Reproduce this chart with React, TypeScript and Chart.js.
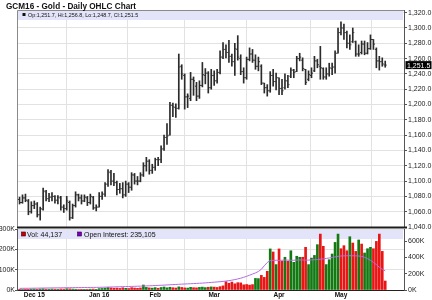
import { useEffect, useRef } from 'react';
import { Chart, registerables } from 'chart.js';

Chart.register(...registerables);

const FONT = '"Liberation Sans", Arial, Helvetica, sans-serif';
Chart.defaults.font.family = FONT;
Chart.defaults.font.size = 7;
Chart.defaults.color = '#222';

// ---- data ----
const opens = [
  1076, 1072, 1078, 1074, 1060, 1068, 1070, 1056, 1063, 1086,
  1077, 1079, 1080, 1075, 1078, 1066, 1064, 1072, 1052, 1068,
  1082, 1078, 1074, 1078, 1072, 1079, 1065, 1066, 1080, 1083,
  1096, 1111, 1100, 1098, 1089, 1090, 1082, 1096, 1092, 1108,
  1100, 1100, 1108, 1120, 1126, 1114, 1118, 1128, 1128, 1142,
  1157, 1160, 1199, 1196, 1195, 1250, 1238, 1210, 1208, 1233,
  1224, 1211, 1225, 1238, 1241, 1222, 1238, 1231, 1242, 1262,
  1272, 1268, 1263, 1256, 1272, 1260, 1243, 1235, 1259, 1266,
  1258, 1250, 1250, 1228, 1222, 1218, 1238, 1230, 1235, 1221,
  1222, 1231, 1237, 1245, 1243, 1260, 1258, 1246, 1233, 1238,
  1244, 1257, 1250, 1247, 1236, 1240, 1247, 1249, 1267, 1294,
  1300, 1294, 1280, 1282, 1282, 1266, 1268, 1279, 1267, 1273,
  1285, 1272, 1257, 1256, 1251.7,
];
const highs = [
  1079, 1082, 1083, 1076, 1073, 1074, 1072, 1066, 1091, 1088,
  1084, 1085, 1081, 1081, 1080, 1069, 1080, 1074, 1070, 1086,
  1083, 1082, 1082, 1080, 1083, 1080, 1069, 1085, 1086, 1098,
  1115, 1114, 1110, 1100, 1097, 1098, 1100, 1098, 1111, 1110,
  1106, 1111, 1124, 1131, 1128, 1122, 1130, 1131, 1146, 1160,
  1175, 1203, 1202, 1201, 1266, 1252, 1240, 1214, 1242, 1236,
  1229, 1231, 1255, 1247, 1243, 1246, 1244, 1246, 1270, 1281,
  1278, 1284, 1266, 1280, 1290, 1265, 1248, 1262, 1274, 1272,
  1265, 1262, 1252, 1228, 1226, 1243, 1246, 1241, 1235, 1233,
  1240, 1238, 1248, 1246, 1263, 1267, 1261, 1246, 1244, 1248,
  1263, 1259, 1276, 1248, 1248, 1254, 1254, 1270, 1300, 1308,
  1305, 1296, 1291, 1300, 1283, 1278, 1283, 1283, 1281, 1291,
  1285, 1274, 1263, 1261, 1256.8,
];
const lows = [
  1070, 1071, 1073, 1056, 1058, 1064, 1053, 1049, 1062, 1074,
  1073, 1074, 1071, 1070, 1062, 1059, 1062, 1049, 1051, 1066,
  1074, 1070, 1073, 1068, 1070, 1063, 1061, 1066, 1076, 1080,
  1093, 1095, 1094, 1082, 1084, 1078, 1080, 1085, 1088, 1096,
  1095, 1099, 1106, 1113, 1109, 1110, 1114, 1120, 1124, 1140,
  1148, 1160, 1184, 1183, 1194, 1233, 1194, 1196, 1205, 1212,
  1205, 1208, 1223, 1227, 1215, 1220, 1225, 1228, 1240, 1260,
  1261, 1255, 1250, 1238, 1258, 1239, 1228, 1233, 1257, 1255,
  1246, 1244, 1226, 1215, 1211, 1216, 1224, 1219, 1213, 1213,
  1220, 1222, 1235, 1235, 1243, 1257, 1244, 1226, 1231, 1235,
  1243, 1248, 1233, 1233, 1233, 1237, 1239, 1241, 1267, 1291,
  1285, 1274, 1272, 1281, 1263, 1263, 1266, 1265, 1266, 1272,
  1272, 1248, 1245, 1250, 1248.7,
];
const closes = [
  1072, 1078, 1075, 1060, 1068, 1070, 1056, 1064, 1087, 1077,
  1079, 1080, 1075, 1079, 1066, 1064, 1074, 1052, 1068, 1082,
  1078, 1074, 1079, 1072, 1080, 1065, 1066, 1080, 1083, 1096,
  1112, 1100, 1098, 1089, 1090, 1082, 1096, 1092, 1108, 1100,
  1100, 1108, 1120, 1126, 1114, 1118, 1128, 1128, 1142, 1157,
  1159, 1199, 1197, 1195, 1249, 1240, 1210, 1211, 1233, 1231,
  1211, 1225, 1239, 1241, 1222, 1238, 1231, 1242, 1262, 1272,
  1268, 1263, 1256, 1273, 1262, 1243, 1235, 1259, 1266, 1258,
  1250, 1256, 1228, 1222, 1218, 1238, 1230, 1235, 1221, 1218,
  1231, 1226, 1245, 1242, 1260, 1262, 1247, 1229, 1239, 1241,
  1257, 1252, 1248, 1236, 1240, 1248, 1249, 1267, 1294, 1300,
  1294, 1280, 1278, 1294, 1266, 1266, 1279, 1267, 1273, 1285,
  1279, 1257, 1256, 1253, 1251.5,
];
const volumes = [
  3200, 2100, 3800, 1500, 4200, 4800, 3600, 5200, 6100, 4400,
  3900, 4700, 4100, 3500, 5000, 4300, 6200, 5600, 4500, 3700,
  2900, 3300, 1800, 3100, 4000, 4600, 3400,
  6800, 7500, 9200, 12400, 10300, 8600, 9400, 7800, 10900, 8200,
  7300, 11500, 9600, 8400, 10100,
  24500,
  12800, 10400, 9300, 11700, 8600, 12300, 14600, 10800, 13500, 11200,
  9800, 15400, 12600, 10300, 9500, 13200, 11400, 10600, 12900, 14300,
  11800, 13600, 15200,
  14200, 12500, 16400, 20300, 41000, 33000, 39000, 30500, 36000, 35000,
  25500, 27000, 24000, 26500, 57000, 56000,
  72000, 62000, 92000, 202000, 187000, 125000, 202000, 141000, 161000, 141000,
  193000, 136000, 166000, 161000, 161000, 210000, 125000, 157000, 170000, 223000,
  275000, 215000, 125000, 149000, 177000, 234000, 275000, 203000, 218000, 193000,
  262000, 231000, 190000, 246000, 226000, 182000, 203000, 210000, 203000, 239000,
  275000, 190000, 44137,
];
// 1 = up (green) volume bar, 0 = down (red)
const volumeUp = [
  0, 1, 0, 0, 1, 1, 0, 1, 1, 0, 1, 1, 0, 1, 0, 0, 1, 0, 1, 1, 0, 0, 1, 0, 1, 0, 1,
  1, 1, 1, 1, 0, 0, 0, 0, 0, 1, 0, 0, 0, 0, 0,
  1,
  1, 0, 1, 1, 0, 1, 1, 1, 1, 0, 0, 1, 0, 0, 1, 1, 0, 0, 1, 1, 1, 0, 1,
  0, 0, 0, 0, 0, 0, 0, 0, 0, 0, 0, 0, 0, 0, 1, 1,
  0, 0, 0, 1, 0, 1, 0, 0, 1, 0, 1, 1, 1, 1, 0, 0, 1, 1, 1, 1, 0, 0, 1, 1, 1,
  1, 1, 0, 0, 0, 1, 0, 0, 1, 0, 1, 1, 1, 0, 0, 0, 0, 0,
];
const openInterest = [
  20000, 20400, 21000, 21300, 21900, 22400, 22800, 23500, 24100, 24600,
  25000, 25500, 26100, 26400, 27000, 27500, 28200, 28600, 29000, 29500,
  29900, 30300, 30500, 31000, 31400, 31900, 32300,
  33000, 34000, 35100, 36300, 37200, 38000, 39100, 40000, 41200, 42000,
  43100, 44300, 45200, 46400, 47800, 49000, 50400, 51800, 53100,
  55000, 56800, 58300, 60000, 62100, 64000, 66200, 68000, 70300, 72000,
  73800, 75500, 77400, 79200, 81000, 83100, 85000, 87600, 90200, 93000,
  96000, 99000, 102000, 106000, 110000, 115000, 121000, 128000, 136000, 145000,
  156000, 168000, 182000, 196000, 210000, 228000,
  255000, 298000, 338000,
  362000, 365000, 366000, 364000, 366000, 368000, 367000, 365000, 366000, 368000,
  370000, 369000, 367000, 368000, 370000,
  372000, 374000, 378000, 383000, 388000, 394000, 400000, 407000, 414000, 418000,
  420000, 421000, 422000, 421000, 420000, 418000, 413000, 402000, 385000, 365000,
  340000, 312000, 280000, 255000, 235105,
];
const monthTickIndex = [5, 27, 46, 66, 88, 109];
const monthTickLabels = ['Dec 15', 'Jan 16', 'Feb', 'Mar', 'Apr', 'May'];
const priceTickValues = [
  1040, 1060, 1080, 1100, 1120, 1140, 1160, 1180, 1200, 1220, 1240, 1260, 1280, 1300, 1320,
];
const volumeTickValues = [0, 100000, 200000, 300000];
const openInterestTickValues = [0, 200000, 400000, 600000];

// ---- styling ----
const X_MIN = -0.865;
const X_MAX = 130.37;
const GRID = '#e2e2e2';
const BAR = '#2b2b2b';
const BAND = '#e3e3f9';
const UP = '#137a13';
const DOWN = '#ea1616';
const OI_COLOR = '#b46ae4';

const fmt1 = (v: number) =>
  v.toLocaleString('en-US', { minimumFractionDigits: 1, maximumFractionDigits: 1 });
const fmtInt = (v: number) => Math.round(v).toLocaleString('en-US');
const fmtK = (v: number) => `${Math.round(v / 1000)}K`;

const setTicks = (values: number[]) => (scale: any) => {
  scale.ticks = values.map((v) => ({ value: v }));
};

const ohlcTicksPlugin = {
  id: 'ohlcTicks',
  afterDatasetsDraw(chart: any) {
    const { ctx, scales } = chart;
    const xs = scales.x;
    const ys = scales.y;
    ctx.save();
    ctx.fillStyle = BAR;
    for (let i = 0; i < opens.length; i++) {
      const px = xs.getPixelForValue(i);
      const yo = ys.getPixelForValue(opens[i]);
      const yc = ys.getPixelForValue(closes[i]);
      ctx.fillRect(px - 1.5, yo - 0.5, 1, 1);
      ctx.fillRect(px + 0.5, yc - 0.5, 1, 1);
    }
    ctx.restore();
  },
};

const priceFramePlugin = {
  id: 'priceFrame',
  beforeDatasetsDraw(chart: any) {
    const { ctx, chartArea } = chart;
    ctx.save();
    ctx.fillStyle = BAND;
    ctx.fillRect(chartArea.left + 1, chartArea.top + 1, chartArea.right - chartArea.left - 2, 9);
    ctx.restore();
  },
  afterDraw(chart: any) {
    const { ctx, chartArea, scales } = chart;
    const last = closes.length - 1;
    ctx.save();
    ctx.strokeStyle = '#8a8a8a';
    ctx.lineWidth = 1;
    ctx.beginPath();
    ctx.moveTo(chartArea.left + 0.5, chartArea.bottom);
    ctx.lineTo(chartArea.left + 0.5, chartArea.top + 0.5);
    ctx.lineTo(chartArea.right, chartArea.top + 0.5);
    ctx.stroke();
    ctx.fillStyle = '#1e1e1e';
    ctx.fillRect(chartArea.left, chartArea.bottom - 0.5, chartArea.right - chartArea.left + 3, 2);
    ctx.fillStyle = '#111';
    ctx.textBaseline = 'alphabetic';
    ctx.font = `bold 8.2px ${FONT}`;
    ctx.fillText('GCM16 - Gold - Daily OHLC Chart', 6, 8.5);
    ctx.fillRect(22.5, 13, 3, 3);
    ctx.font = `5.4px ${FONT}`;
    ctx.fillText(
      `Op:${fmt1(opens[last])}, Hi:${fmt1(highs[last])}, Lo:${fmt1(lows[last])}, Cl:${fmt1(closes[last])}`,
      28,
      17.2,
    );
    const cy = scales.y.getPixelForValue(closes[last]);
    ctx.fillStyle = '#000';
    ctx.fillRect(chartArea.right + 1.5, cy - 4, 26, 8);
    ctx.fillStyle = '#fff';
    ctx.font = `7px ${FONT}`;
    ctx.textBaseline = 'middle';
    ctx.fillText(fmt1(closes[last]), chartArea.right + 3, cy + 0.5);
    ctx.restore();
  },
};

const volFramePlugin = {
  id: 'volFrame',
  beforeDatasetsDraw(chart: any) {
    const { ctx, chartArea } = chart;
    ctx.save();
    ctx.fillStyle = BAND;
    ctx.fillRect(chartArea.left + 1, chartArea.top + 1, chartArea.right - chartArea.left - 2, 9);
    ctx.restore();
  },
  afterDraw(chart: any) {
    const { ctx, chartArea } = chart;
    const last = volumes.length - 1;
    const t = chartArea.top;
    ctx.save();
    ctx.textBaseline = 'alphabetic';
    ctx.font = `7px ${FONT}`;
    ctx.fillStyle = '#c80000';
    ctx.fillRect(21.5, t + 3, 4, 4);
    ctx.strokeStyle = '#400';
    ctx.lineWidth = 0.6;
    ctx.strokeRect(21.5, t + 3, 4, 4);
    ctx.fillStyle = '#111';
    ctx.fillText(`Vol: ${fmtInt(volumes[last])}`, 27, t + 8.3);
    ctx.fillStyle = '#7a00c0';
    ctx.fillRect(77.5, t + 3, 4, 4);
    ctx.strokeStyle = '#303';
    ctx.strokeRect(77.5, t + 3, 4, 4);
    ctx.fillStyle = '#111';
    ctx.fillText(`Open Interest: ${fmtInt(openInterest[last])}`, 84, t + 8.3);
    ctx.restore();
  },
};

export default function App() {
  const priceRef = useRef<HTMLCanvasElement>(null);
  const volRef = useRef<HTMLCanvasElement>(null);

  useEffect(() => {
    const price = new Chart(priceRef.current as HTMLCanvasElement, {
      type: 'bar',
      data: {
        datasets: [
          {
            data: highs.map((h, i) => ({ x: i, y: [lows[i], h] })) as any,
            backgroundColor: BAR,
            borderWidth: 0,
            barThickness: 1,
            grouped: false,
          } as any,
        ],
      },
      options: {
        animation: false,
        responsive: false,
        devicePixelRatio: 1,
        events: [],
        layout: { padding: { left: 17, top: 10, right: 0, bottom: 9 } },
        plugins: { legend: { display: false }, tooltip: { enabled: false }, title: { display: false } },
        scales: {
          x: {
            type: 'linear',
            min: X_MIN,
            max: X_MAX,
            offset: false,
            afterBuildTicks: setTicks(monthTickIndex),
            afterFit: (s: any) => {
              s.height = 0;
            },
            ticks: { display: false },
            grid: { color: GRID, drawTicks: false },
            border: { display: false },
          },
          y: {
            position: 'right',
            min: 1040,
            max: 1323.5,
            afterBuildTicks: setTicks(priceTickValues),
            afterFit: (s: any) => {
              s.width = 28;
            },
            ticks: {
              autoSkip: false,
              padding: 1,
              color: '#222',
              font: { size: 7, family: FONT },
              callback: (v: any) => fmt1(Number(v)),
            },
            grid: { color: GRID, tickLength: 3, tickColor: '#555' },
            border: { color: '#555' },
          },
        },
      } as any,
      plugins: [priceFramePlugin, ohlcTicksPlugin],
    });

    const vol = new Chart(volRef.current as HTMLCanvasElement, {
      type: 'bar',
      data: {
        datasets: [
          {
            type: 'line',
            data: openInterest.map((v, i) => ({ x: i, y: v })),
            yAxisID: 'y2',
            borderColor: OI_COLOR,
            borderWidth: 1,
            pointRadius: 0,
            tension: 0,
            order: 0,
          } as any,
          {
            type: 'bar',
            data: volumes.map((v, i) => ({ x: i, y: v })),
            yAxisID: 'y',
            backgroundColor: volumeUp.map((u) => (u ? UP : DOWN)),
            borderWidth: 0,
            barThickness: 2,
            grouped: false,
            order: 1,
          } as any,
        ],
      },
      options: {
        animation: false,
        responsive: false,
        devicePixelRatio: 1,
        events: [],
        layout: { padding: { left: 0, top: 11, right: 0, bottom: 0 } },
        plugins: { legend: { display: false }, tooltip: { enabled: false }, title: { display: false } },
        scales: {
          x: {
            type: 'linear',
            min: X_MIN,
            max: X_MAX,
            offset: false,
            afterBuildTicks: setTicks(monthTickIndex),
            afterFit: (s: any) => {
              s.height = 10;
            },
            ticks: {
              autoSkip: false,
              maxRotation: 0,
              padding: 1,
              color: '#111',
              font: { size: 6.5, weight: 'bold', family: FONT },
              callback: (v: any) => {
                const k = monthTickIndex.indexOf(Number(v));
                return k >= 0 ? monthTickLabels[k] : '';
              },
            },
            grid: { color: GRID, drawTicks: false },
            border: { color: '#222', width: 1 },
          },
          y: {
            position: 'left',
            min: 0,
            max: 300000,
            afterBuildTicks: setTicks(volumeTickValues),
            afterFit: (s: any) => {
              s.width = 17;
            },
            ticks: {
              autoSkip: false,
              padding: 0,
              color: '#222',
              font: { size: 7, family: FONT },
              callback: (v: any) => fmtK(Number(v)),
            },
            grid: { color: GRID, tickLength: 2, tickColor: '#555' },
            border: { color: '#555' },
          },
          y2: {
            position: 'right',
            min: 0,
            max: 750000,
            afterBuildTicks: setTicks(openInterestTickValues),
            afterFit: (s: any) => {
              s.width = 28;
            },
            ticks: {
              autoSkip: false,
              padding: 1,
              color: '#222',
              font: { size: 7, family: FONT },
              callback: (v: any) => fmtK(Number(v)),
            },
            grid: { drawOnChartArea: false, tickLength: 3, tickColor: '#555' },
            border: { color: '#555' },
          },
        },
      } as any,
      plugins: [volFramePlugin],
    });

    return () => {
      price.destroy();
      vol.destroy();
    };
  }, []);

  return (
    <div
      style={{
        position: 'fixed',
        left: 0,
        top: 0,
        width: 432,
        height: 300,
        background: '#fff',
        overflow: 'hidden',
      }}
    >
      <canvas
        ref={volRef}
        width={432}
        height={82}
        style={{ position: 'absolute', left: 0, top: 218, width: 432, height: 82 }}
      />
      <canvas
        ref={priceRef}
        width={432}
        height={236}
        style={{ position: 'absolute', left: 0, top: 0, width: 432, height: 236 }}
      />
    </div>
  );
}
